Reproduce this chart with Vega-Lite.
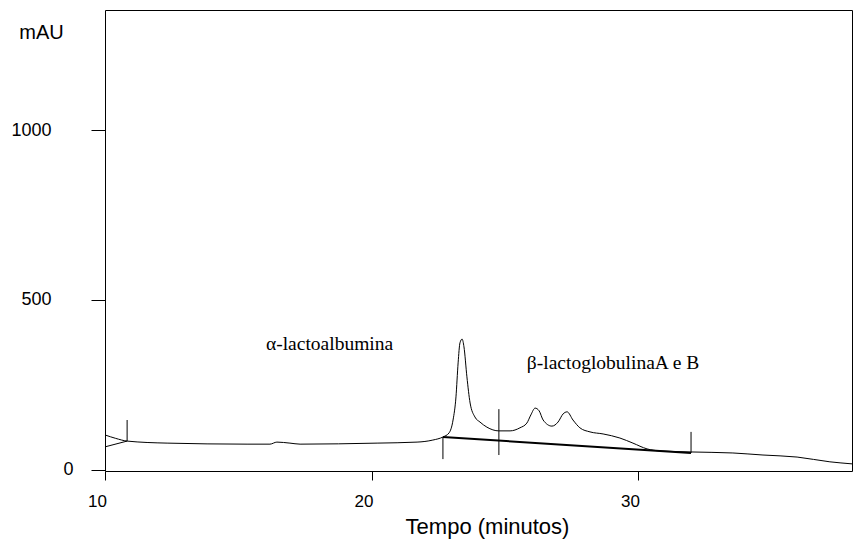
{
  "$schema": "https://vega.github.io/schema/vega-lite/v6.json",
  "autosize": "none",
  "width": 747,
  "height": 461,
  "padding": {"left": 105, "top": 10, "right": 1, "bottom": 74},
  "background": "white",
  "config": {
    "view": {"stroke": "black", "strokeWidth": 1},
    "axis": {"domain": false, "grid": false, "labelColor": "black", "tickColor": "black", "titleColor": "black", "labelFont": "Liberation Sans", "titleFont": "Liberation Sans", "titleFontWeight": "normal"}
  },
  "datasets": {
    "curve": [
      {"t": 10.00, "mAU": 103}, {"t": 10.4, "mAU": 93}, {"t": 10.83, "mAU": 85}, {"t": 12.33, "mAU": 79},
      {"t": 15.33, "mAU": 76}, {"t": 16.19, "mAU": 76}, {"t": 16.45, "mAU": 82}, {"t": 16.94, "mAU": 79},
      {"t": 17.32, "mAU": 76}, {"t": 20.21, "mAU": 79}, {"t": 21.71, "mAU": 82}, {"t": 22.3, "mAU": 88},
      {"t": 22.68, "mAU": 97}, {"t": 22.91, "mAU": 109}, {"t": 23.06, "mAU": 147}, {"t": 23.17, "mAU": 215},
      {"t": 23.25, "mAU": 315}, {"t": 23.32, "mAU": 374}, {"t": 23.40, "mAU": 385}, {"t": 23.47, "mAU": 362},
      {"t": 23.58, "mAU": 274}, {"t": 23.70, "mAU": 197}, {"t": 23.88, "mAU": 156}, {"t": 24.07, "mAU": 141},
      {"t": 24.33, "mAU": 126}, {"t": 24.78, "mAU": 115}, {"t": 25.20, "mAU": 115}, {"t": 25.57, "mAU": 124},
      {"t": 25.83, "mAU": 138}, {"t": 25.98, "mAU": 162}, {"t": 26.14, "mAU": 182}, {"t": 26.29, "mAU": 174},
      {"t": 26.44, "mAU": 147}, {"t": 26.77, "mAU": 129}, {"t": 27.00, "mAU": 141}, {"t": 27.19, "mAU": 165},
      {"t": 27.34, "mAU": 171}, {"t": 27.56, "mAU": 147}, {"t": 27.82, "mAU": 124}, {"t": 28.20, "mAU": 112},
      {"t": 28.69, "mAU": 106}, {"t": 29.32, "mAU": 94}, {"t": 29.81, "mAU": 79}, {"t": 30.34, "mAU": 62},
      {"t": 30.83, "mAU": 56}, {"t": 31.99, "mAU": 53}, {"t": 33.56, "mAU": 50}, {"t": 34.69, "mAU": 44},
      {"t": 35.97, "mAU": 38}, {"t": 37.20, "mAU": 24}, {"t": 38.03, "mAU": 18}
    ],
    "baseThin": [{"t1": 10.0, "y1": 68, "t2": 10.83, "y2": 85}],
    "baseThick": [{"t1": 22.68, "y1": 97, "t2": 31.99, "y2": 50}],
    "markers": [
      {"t": 10.83, "lo": 85, "hi": 147},
      {"t": 22.68, "lo": 32, "hi": 97},
      {"t": 24.78, "lo": 44, "hi": 179},
      {"t": 31.99, "lo": 50, "hi": 112}
    ],
    "labels": [
      {"t": 16.04, "mAU": 371, "label": "α-lactoalbumina"},
      {"t": 25.83, "mAU": 315, "label": "β-lactoglobulinaA e B"}
    ]
  },
  "layer": [
    {
      "data": {"name": "curve"},
      "mark": {"type": "line", "color": "black", "strokeWidth": 1, "interpolate": "monotone", "clip": true},
      "encoding": {
        "x": {"field": "t", "type": "quantitative", "scale": {"domain": [10, 38.03], "nice": false, "zero": false},
          "axis": {"values": [10, 20, 30], "format": "d", "labelFlush": false, "tickSize": 9, "labelFontSize": 17, "labelOffset": -8, "labelPadding": 13, "title": "Tempo (minutos)", "titleFontSize": 22, "titleX": 382, "titleY": 55, "titleBaseline": "middle", "titleAnchor": "middle", "titleAlign": "center"}},
        "y": {"field": "mAU", "type": "quantitative", "scale": {"domain": [-3, 1353], "nice": false, "zero": false},
          "axis": {"values": [0, 500, 1000], "format": "d", "labelFlush": false, "tickSize": 14, "labelFontSize": 18, "labelBaseline": "middle",
            "labelPadding": {"condition": {"test": "datum.value == 0", "value": 18}, "value": 40},
            "title": "mAU", "titleAngle": 0, "titleX": -64, "titleY": 22, "titleFontSize": 20, "titleAlign": "center", "titleBaseline": "middle"}}
      }
    },
    {
      "data": {"name": "baseThin"},
      "mark": {"type": "rule", "color": "black", "strokeWidth": 1},
      "encoding": {
        "x": {"field": "t1", "type": "quantitative"},
        "y": {"field": "y1", "type": "quantitative"},
        "x2": {"field": "t2"},
        "y2": {"field": "y2"}
      }
    },
    {
      "data": {"name": "baseThick"},
      "mark": {"type": "rule", "color": "black", "strokeWidth": 2},
      "encoding": {
        "x": {"field": "t1", "type": "quantitative"},
        "y": {"field": "y1", "type": "quantitative"},
        "x2": {"field": "t2"},
        "y2": {"field": "y2"}
      }
    },
    {
      "data": {"name": "markers"},
      "mark": {"type": "rule", "color": "black", "strokeWidth": 1},
      "encoding": {
        "x": {"field": "t", "type": "quantitative"},
        "y": {"field": "lo", "type": "quantitative"},
        "y2": {"field": "hi"}
      }
    },
    {
      "data": {"name": "labels"},
      "mark": {"type": "text", "align": "left", "baseline": "middle", "font": "Liberation Serif", "fontSize": 19.5, "color": "black"},
      "encoding": {
        "x": {"field": "t", "type": "quantitative"},
        "y": {"field": "mAU", "type": "quantitative"},
        "text": {"field": "label"}
      }
    }
  ]
}
